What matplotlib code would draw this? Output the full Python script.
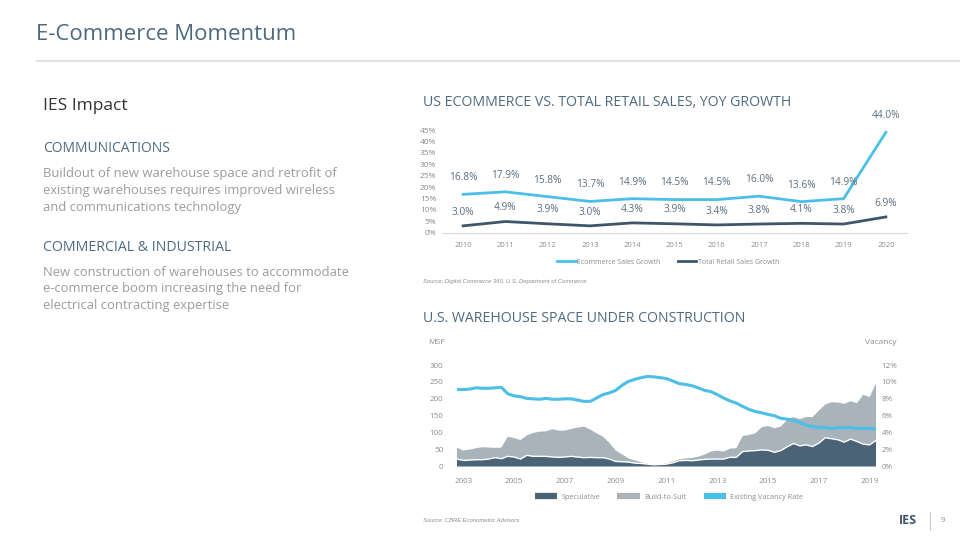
import matplotlib.pyplot as plt
from matplotlib.lines import Line2D
import numpy as np

# top chart: yoy growth (%)
years = [2010, 2011, 2012, 2013, 2014, 2015, 2016, 2017, 2018, 2019, 2020]
ecommerce = [16.8, 17.9, 15.8, 13.7, 14.9, 14.5, 14.5, 16.0, 13.6, 14.9, 44.0]
retail = [3.0, 4.9, 3.9, 3.0, 4.3, 3.9, 3.4, 3.8, 4.1, 3.8, 6.9]

# bottom chart: quarterly, 2002 Q4 .. 2019 Q2 (MSF and vacancy %)
quarters = 2002.75 + 0.25 * np.arange(67)
speculative = [22, 18, 19, 20, 20, 22, 26, 23, 30, 28, 22, 33, 30, 30, 30, 28, 27, 28, 30, 28,
               26, 27, 26, 26, 22, 15, 14, 13, 10, 9, 7, 5, 6, 7, 11, 17, 18, 17, 19, 21,
               22, 22, 22, 27, 27, 44, 46, 47, 49, 48, 42, 47, 58, 68, 61, 64, 59, 69, 85, 82,
               79, 72, 81, 74, 66, 64, 77]
build_to_suit = [34, 29, 31, 34, 37, 34, 29, 33, 58, 56, 56, 59, 69, 73, 74, 82, 79, 78, 81, 87,
                 92, 82, 72, 62, 48, 32, 22, 11, 8, 4, 1, 1, 1, 2, 4, 4, 6, 8, 10, 14,
                 22, 25, 22, 26, 27, 46, 47, 51, 67, 72, 71, 71, 80, 78, 79, 82, 87, 96, 98, 108,
                 110, 113, 112, 113, 146, 141, 169]
vacancy = [9.1, 9.1, 9.15, 9.3, 9.25, 9.25, 9.3, 9.35, 8.6, 8.35, 8.25, 8.05, 8.0, 7.95, 8.05, 7.95, 7.95, 8.0, 8.0, 7.85,
           7.7, 7.7, 8.1, 8.5, 8.7, 9.0, 9.6, 10.05, 10.3, 10.5, 10.65, 10.6, 10.5, 10.4, 10.1, 9.8, 9.7, 9.55, 9.3, 9.0,
           8.85, 8.5, 8.1, 7.75, 7.5, 7.1, 6.75, 6.5, 6.35, 6.15, 6.0, 5.7, 5.6, 5.45, 5.2, 4.9, 4.7, 4.65, 4.6, 4.5,
           4.6, 4.6, 4.6, 4.5, 4.5, 4.5, 4.45]

BLUE_GRAY = '#4e6a80'
GRAY = '#8c8c8c'
LIGHT_BLUE = '#4bbfe8'
DARK = '#3f566a'
SPEC = '#4a6376'
BTS = '#a8b3ba'

plt.rcParams['font.family'] = ['Open Sans', 'DejaVu Sans']

W, H = 960, 540
fig = plt.figure(figsize=(9.6, 5.4), dpi=100)


def box(left, top, right, bottom):
    return [left / W, 1 - bottom / H, (right - left) / W, (bottom - top) / H]


def ftext(x, y, s, **kw):
    fig.text(x / W, 1 - y / H, s, **kw)


# slide header
ftext(36, 35, "E-Commerce Momentum", fontsize=16, color=BLUE_GRAY, va='center')
fig.add_artist(Line2D([37 / W, 1], [1 - 61 / H, 1 - 61 / H], color='#e2e2e2', lw=1.5))

# left panel
ftext(43, 106, "IES Impact", fontsize=12.5, color='#333333', va='center')
ftext(43, 148, "COMMUNICATIONS", fontsize=10, color=BLUE_GRAY, va='center')
body1 = ["Buildout of new warehouse space and retrofit of",
         "existing warehouses requires improved wireless",
         "and communications technology"]
for i, line in enumerate(body1):
    ftext(43, 174 + i * 16.5, line, fontsize=9.4, color='#9c9c9c', va='center')
ftext(43, 247, "COMMERCIAL & INDUSTRIAL", fontsize=10.2, color=BLUE_GRAY, va='center')
body2 = ["New construction of warehouses to accommodate",
         "e-commerce boom increasing the need for",
         "electrical contracting expertise"]
for i, line in enumerate(body2):
    ftext(43, 272 + i * 16.5, line, fontsize=9.4, color='#9c9c9c', va='center')

# ---- top chart ----
ftext(423, 102, "US ECOMMERCE VS. TOTAL RETAIL SALES, YOY GROWTH", fontsize=10.2,
      color=BLUE_GRAY, va='center')
ax1 = fig.add_axes(box(442, 130, 907, 232.7))
x = np.arange(len(years))
ax1.plot(x, ecommerce, color=LIGHT_BLUE, lw=2)
ax1.plot(x, retail, color=DARK, lw=2)
for xi, v in zip(x, ecommerce):
    ax1.annotate(f"{v:.1f}%", (xi, v), xytext=(0, 8), textcoords='offset points',
                 ha='center', va='bottom', fontsize=7.3, color='#5a6e80', annotation_clip=False)
for xi, v in zip(x, retail):
    ax1.annotate(f"{v:.1f}%", (xi, v), xytext=(0, 6), textcoords='offset points',
                 ha='center', va='bottom', fontsize=7.3, color='#5a6e80', annotation_clip=False)
ax1.set_xlim(-0.5, len(years) - 0.5)
ax1.set_ylim(0, 45)
ax1.set_yticks(range(0, 46, 5))
ax1.set_yticklabels([f"{v}%" for v in range(0, 46, 5)])
ax1.set_xticks(x)
ax1.set_xticklabels([str(y) for y in years])
for s in ['top', 'right', 'left']:
    ax1.spines[s].set_visible(False)
ax1.spines['bottom'].set_color('#d9d9d9')
ax1.tick_params(axis='both', length=0, labelsize=6, colors=GRAY)
ax1.tick_params(axis='x', pad=7, labelsize=5.5)
ax1.tick_params(axis='y', pad=4)

handles1 = [Line2D([], [], color=LIGHT_BLUE, lw=2), Line2D([], [], color=DARK, lw=2)]
fig.legend(handles1, ["Ecommerce Sales Growth", "Total Retail Sales Growth"], loc='center',
           bbox_to_anchor=(668 / W, 1 - 262 / H), ncol=2, frameon=False, fontsize=5,
           labelcolor=GRAY, handlelength=2.7, handletextpad=0.2, columnspacing=2.5)
ftext(423, 282, "Source: Digital Commerce 360, U.S. Department of Commerce", fontsize=4.2,
      color=GRAY, style='italic', va='center', family='Liberation Sans')

# ---- bottom chart ----
ftext(423, 318, "U.S. WAREHOUSE SPACE UNDER CONSTRUCTION", fontsize=10.2,
      color=BLUE_GRAY, va='center')
ftext(428, 342, "MSF", fontsize=6, color=GRAY, va='center')
ftext(897, 342, "Vacancy", fontsize=6, color=GRAY, va='center', ha='right')

ax2 = fig.add_axes(box(457, 365, 876, 466.5))
ax2.stackplot(quarters, speculative, build_to_suit, colors=[SPEC, BTS], lw=0)
ax2.plot(quarters, speculative, color='white', lw=1)
ax2.set_xlim(quarters[0], quarters[-1])
ax2.set_ylim(0, 300)
ax2.set_yticks(range(0, 301, 50))
ax2.set_xticks(range(2003, 2020, 2))
ax2.tick_params(axis='both', length=0, labelsize=5.8, colors=GRAY)
ax2.tick_params(axis='y', pad=10)
ax2.tick_params(axis='x', pad=8)

ax3 = ax2.twinx()
ax3.plot(quarters, vacancy, color=LIGHT_BLUE, lw=2.2)
ax3.set_ylim(0, 12)
ax3.set_yticks(range(0, 13, 2))
ax3.set_yticklabels([f"{v}%" for v in range(0, 13, 2)])
ax3.tick_params(axis='y', length=0, labelsize=5.8, colors=GRAY, pad=4)
for a in (ax2, ax3):
    for s in a.spines.values():
        s.set_visible(False)

handles2 = [Line2D([], [], color=SPEC, lw=4.5, solid_capstyle='butt'),
            Line2D([], [], color=BTS, lw=4.5, solid_capstyle='butt'),
            Line2D([], [], color=LIGHT_BLUE, lw=4.5, solid_capstyle='butt')]
fig.legend(handles2, ["Speculative", "Build-to-Suit", "Existing Vacancy Rate"], loc='center',
           bbox_to_anchor=(669 / W, 1 - 497 / H), ncol=3, frameon=False, fontsize=5.2,
           labelcolor=GRAY, handlelength=3.1, handletextpad=0.6, columnspacing=2.4)
ftext(423, 520, "Source: CBRE Econometric Advisors", fontsize=4.2, color=GRAY,
      style='italic', va='center', family='Liberation Sans')

# footer
ftext(908, 521, "IES", fontsize=9, color=DARK, weight='bold', ha='center', va='center')
fig.add_artist(Line2D([930 / W, 930 / W], [1 - 512 / H, 1 - 530 / H], color='#cccccc', lw=0.8))
ftext(943, 521, "9", fontsize=5.5, color=GRAY, ha='center', va='center')

fig.savefig('out.png', dpi=100, facecolor='white')
